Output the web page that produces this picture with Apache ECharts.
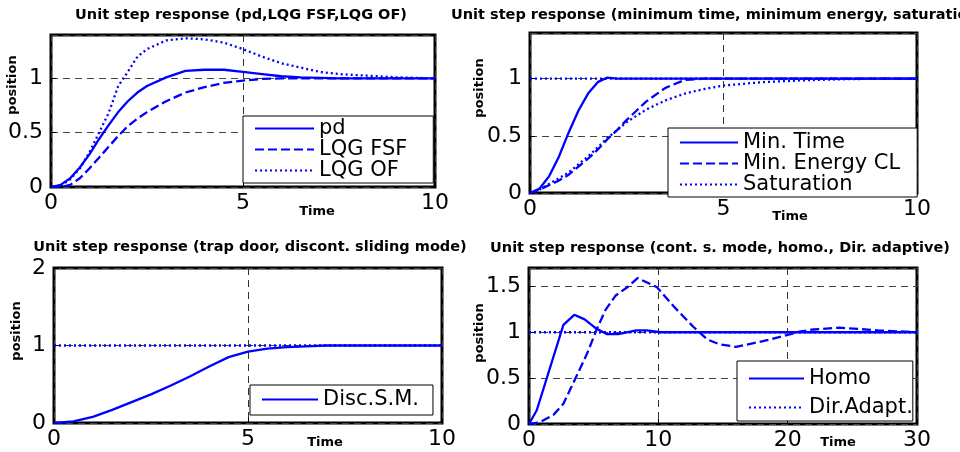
<!DOCTYPE html>
<html>
<head>
<meta charset="utf-8">
<script src="https://cdn.jsdelivr.net/npm/echarts@6/dist/echarts.min.js"></script>
<style>html,body{margin:0;padding:0;background:#fff}#c{width:960px;height:452px}</style>
</head>
<body>
<div id="c"></div>
<script>
// ---------- data ----------
const titles = [
  'Unit step response (pd,LQG FSF,LQG OF)',
  'Unit step response (minimum time, minimum energy, saturation)',
  'Unit step response (trap door, discont. sliding mode)',
  'Unit step response (cont. s. mode, homo., Dir. adaptive)'
];
const xTicks1 = [0, 5, 10];
const xTicks4 = [0, 10, 20, 30];

// panel 1
const t1   = [0,0.25,0.5,0.75,1,1.25,1.5,1.75,2,2.25,2.5,3,3.5,4,4.5,5,5.5,6,6.5,7,7.5,8,9,10];
const pd   = [0,0.02,0.08,0.18,0.30,0.44,0.57,0.69,0.79,0.87,0.93,1.01,1.07,1.08,1.08,1.06,1.04,1.02,1.01,1.005,1,1,1,1];
const lqgFSF = [0,0,0.02,0.08,0.17,0.27,0.37,0.47,0.56,0.63,0.69,0.79,0.87,0.92,0.96,0.98,0.995,1,1,1,1,1,1,1];
const lqgOF  = [0,0.01,0.07,0.17,0.32,0.5,0.68,0.93,1.06,1.2,1.27,1.35,1.37,1.36,1.33,1.27,1.2,1.14,1.1,1.06,1.04,1.03,1.01,1.0];

// panel 2
const t2 = [0,0.25,0.5,0.75,1,1.25,1.5,1.75,2,2.25,2.5,3,3.5,4,4.5,5,6,7,8,9,10];
const minTime   = [0,0.04,0.15,0.32,0.53,0.72,0.87,0.97,1.01,1.0,1,1,1,1,1,1,1,1,1,1,1];
const minEnergy = [0,0.03,0.07,0.11,0.16,0.23,0.3,0.38,0.47,0.55,0.64,0.8,0.92,0.99,1,1,1,1,1,1,1];
const saturation= [0,0.03,0.08,0.13,0.18,0.25,0.32,0.4,0.48,0.55,0.62,0.73,0.81,0.87,0.91,0.94,0.97,0.985,0.995,1,1];
const ref2T = [0,10];
const ref2  = [1,1];

// panel 3
const t3   = [0,0.5,1,1.5,2,2.5,3,3.5,4,4.5,5,5.5,6,6.5,7,8,10];
const disc = [0,0.02,0.08,0.17,0.27,0.37,0.48,0.6,0.73,0.85,0.92,0.96,0.98,0.99,1,1,1];
const ref3T = [0,10];
const ref3  = [1,1];

// panel 4
const homoT = [0,0.6,2.66,3.5,4.3,5.2,6.0,6.9,8.3,9.1,10.2,30];
const homo  = [0,0.15,1.08,1.19,1.14,1.04,0.98,0.98,1.02,1.02,1,1];
const contT = [0,0.85,1.9,2.66,3.4,4.5,5.2,5.9,6.7,7.6,8.4,9.9,11.2,12.7,13.8,14.7,16,18,20,21,22,24,27,30];
const cont  = [0,0.02,0.1,0.22,0.44,0.77,1.02,1.24,1.4,1.49,1.59,1.49,1.28,1.06,0.92,0.87,0.84,0.9,0.97,1.01,1.03,1.05,1.02,1.0];
const dirT  = [0,30];
const dirA  = [1,1];

// ---------- helpers ----------
const zip = (xs, ys) => xs.map((x, i) => [x, ys[i]]);
const BLUE = '#0000ff';
const FONT = 'DejaVu Sans';
const DASH = [9, 4];
const DOT = [2, 3];

function line(name, xs, ys, idx, type) {
  return {
    name, type: 'line', xAxisIndex: idx, yAxisIndex: idx,
    data: zip(xs, ys), symbol: 'none', smooth: false, animation: false,
    lineStyle: { color: BLUE, width: 2.3, type: type },
    itemStyle: { color: BLUE }
  };
}
function xAxis(idx, max, interval) {
  return {
    type: 'value', gridIndex: idx, min: 0, max, interval,
    axisLine: { show: false },
    axisTick: { show: true, inside: true, length: 5, lineStyle: { color: '#000' } },
    axisLabel: { color: '#000', fontFamily: FONT, fontSize: 22, margin: 5 },
    splitLine: { show: true, lineStyle: { color: '#333', type: [7, 5], width: 1 } }
  };
}
function yAxis(idx, max, interval, showMax) {
  return {
    type: 'value', gridIndex: idx, min: 0, max, interval,
    axisLine: { show: false },
    axisTick: { show: true, inside: true, length: 5, lineStyle: { color: '#000' } },
    axisLabel: { color: '#000', fontFamily: FONT, fontSize: 22, margin: 8, showMaxLabel: showMax },
    splitLine: { show: true, lineStyle: { color: '#444', type: [7, 5], width: 1 } }
  };
}
function legend(data, left, top, padding, itemWidth, lineHeight, itemGap) {
  return {
    data, left, top, orient: 'vertical', padding, itemWidth, itemHeight: 14, itemGap,
    selectedMode: false, backgroundColor: '#fff', borderColor: '#000', borderWidth: 1, borderRadius: 0,
    itemStyle: { opacity: 0, color: 'rgba(0,0,0,0)', borderWidth: 0 },
    textStyle: { color: '#000', fontFamily: FONT, fontSize: 21, lineHeight }
  };
}
function txt(text, x, y, rot) {
  return {
    type: 'text', x, y, rotation: rot ? Math.PI / 2 : 0,
    style: { text, fill: '#000', font: 'bold 13px "DejaVu Sans"', textAlign: 'center', textVerticalAlign: 'middle' }
  };
}
const gridBox = { show: true, borderColor: '#000', borderWidth: 3, backgroundColor: 'transparent', containLabel: false };
const titleStyle = { fontFamily: FONT, fontSize: 14.5, fontWeight: 'bold', color: '#000' };

const option = {
  animation: false,
  backgroundColor: '#fff',
  title: [
    { text: titles[0], left: 241, top: 8, textAlign: 'center', padding: 0, textStyle: titleStyle },
    { text: titles[1], left: 451, top: 8, textAlign: 'left', padding: 0, textStyle: titleStyle },
    { text: titles[2], left: 250, top: 240, textAlign: 'center', padding: 0, textStyle: titleStyle },
    { text: titles[3], left: 720, top: 241, textAlign: 'center', padding: 0, textStyle: titleStyle }
  ],
  grid: [
    Object.assign({ left: 51, top: 35, width: 384, height: 152 }, gridBox),
    Object.assign({ left: 530, top: 33, width: 387, height: 160 }, gridBox),
    Object.assign({ left: 54, top: 268, width: 388, height: 155 }, gridBox),
    Object.assign({ left: 529, top: 268, width: 388, height: 156 }, gridBox)
  ],
  xAxis: [xAxis(0, xTicks1[2], 5), xAxis(1, xTicks1[2], 5), xAxis(2, xTicks1[2], 5), xAxis(3, xTicks4[3], 10)],
  yAxis: [yAxis(0, 1.4, 0.5, false), yAxis(1, 1.4, 0.5, false), yAxis(2, 2, 1, true), yAxis(3, 1.7, 0.5, false)],
  legend: [
    legend(['pd', 'LQG FSF', 'LQG OF'], 243, 116, [2, 26, 2, 11], 59, 20, 0),
    legend(['Min. Time', 'Min. Energy CL', 'Saturation'], 668, 128, [4, 17, 2, 11], 58, 19, 0),
    legend(['Disc.S.M.'], 250, 385, [4, 14, 5, 11], 56, 20, 0),
    legend(['Homo', 'Dir.Adapt.'], 737, 361, [7, 0, 3, 11], 55, 20, 8)
  ],
  series: [
    line('pd', t1, pd, 0, 'solid'),
    line('LQG FSF', t1, lqgFSF, 0, DASH),
    line('LQG OF', t1, lqgOF, 0, DOT),

    line('Reference (2)', ref2T, ref2, 1, DOT),
    line('Saturation', t2, saturation, 1, DOT),
    line('Min. Energy CL', t2, minEnergy, 1, DASH),
    line('Min. Time', t2, minTime, 1, 'solid'),

    line('Reference (3)', ref3T, ref3, 2, DOT),
    line('Disc.S.M.', t3, disc, 2, 'solid'),

    line('Dir.Adapt.', dirT, dirA, 3, DOT),
    line('Cont.S.M.', contT, cont, 3, DASH),
    line('Homo', homoT, homo, 3, 'solid')
  ],
  graphic: [
    txt('Time', 317, 212, false),
    txt('Time', 790, 217, false),
    txt('Time', 325, 443, false),
    txt('Time', 838, 443, false),
    txt('position', 13, 85, true),
    txt('position', 480, 88, true),
    txt('position', 17, 331, true),
    txt('position', 480, 333, true)
  ]
};
const chart = echarts.init(document.getElementById('c'), null, { renderer: 'canvas' });
chart.setOption(option);
</script>
</body>
</html>
